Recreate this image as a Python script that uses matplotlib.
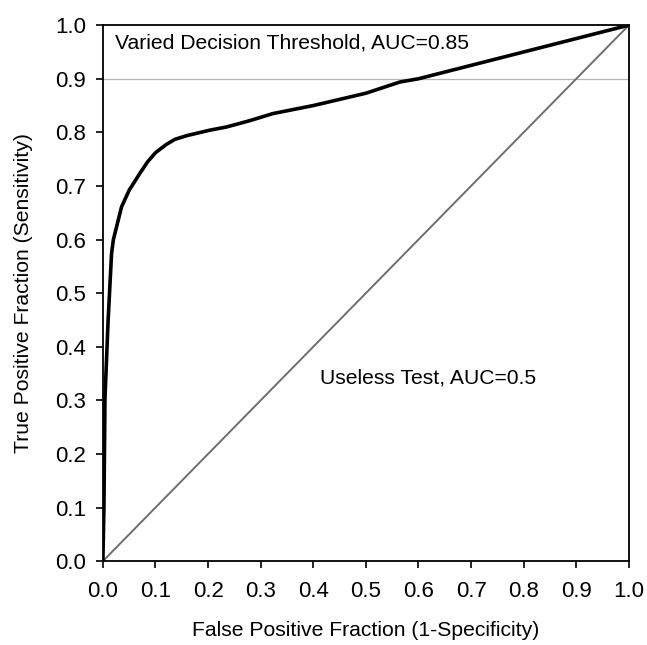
import matplotlib
matplotlib.use("Agg")
import matplotlib.pyplot as plt

plt.rcParams['font.family'] = ['Liberation Sans', 'DejaVu Sans']

# ROC curve points (false positive fraction, true positive fraction)
fpf = [0.0, 0.002, 0.004, 0.01, 0.0165, 0.02, 0.0355, 0.05, 0.07, 0.085, 0.1,
       0.12, 0.137, 0.16, 0.203, 0.235, 0.28, 0.323, 0.4, 0.5, 0.565, 0.6,
       0.7, 0.8, 0.9, 1.0]
tpf = [0.0, 0.1, 0.304, 0.45, 0.574, 0.6, 0.661, 0.692, 0.723, 0.745, 0.762,
       0.777, 0.787, 0.794, 0.804, 0.81, 0.822, 0.835, 0.85, 0.873, 0.894,
       0.9, 0.925, 0.95, 0.975, 1.0]
chance = [0.0, 1.0]
ticks = [i / 10 for i in range(11)]

fig = plt.figure(figsize=(6.47, 6.45), dpi=100)
ax = fig.add_axes([0.159, 0.130, 0.813, 0.831])

ax.axhline(0.9, color="#b4b4b4", lw=0.9, zorder=1)
ax.plot(chance, chance, color="#6e6e6e", lw=1.4, zorder=2)
ax.plot(fpf, tpf, color="black", lw=2.6, solid_joinstyle="round", zorder=3)

ax.set_xlim(0, 1)
ax.set_ylim(0, 1)
ax.set_xticks(ticks)
ax.set_yticks(ticks)
ax.set_xticklabels([f"{t:.1f}" for t in ticks])
ax.set_yticklabels([f"{t:.1f}" for t in ticks])
ax.tick_params(direction="out", length=5, width=1.2, labelsize=16)
ax.tick_params(axis="x", pad=9)
ax.tick_params(axis="y", pad=7)
for s in ax.spines.values():
    s.set_linewidth(1.3)

ax.text(0.023, 0.966, "Varied Decision Threshold, AUC=0.85", fontsize=15.2,
        va="center", ha="left")
ax.text(0.413, 0.341, "Useless Test, AUC=0.5", fontsize=15.2,
        va="center", ha="left")

ax.set_xlabel("False Positive Fraction (1-Specificity)", fontsize=15.2, labelpad=14)
ax.set_ylabel("True Positive Fraction (Sensitivity)", fontsize=15.2, labelpad=16)

fig.savefig("out.png")
